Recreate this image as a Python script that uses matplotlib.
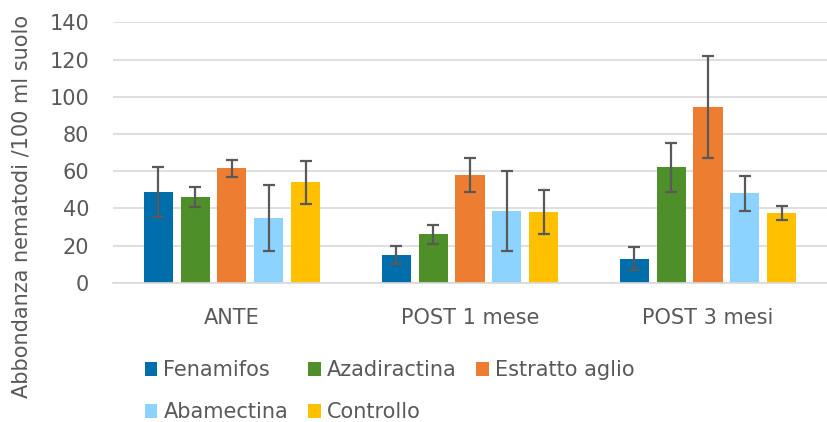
import numpy as np
import matplotlib.pyplot as plt

# dati
periodi = ["ANTE", "POST 1 mese", "POST 3 mesi"]
trattamenti = ["Fenamifos", "Azadiractina", "Estratto aglio", "Abamectina", "Controllo"]
colori = ["#006EAA", "#4E8F2A", "#ED7D31", "#8DD3FF", "#FFC000"]

fenamifos = [49, 15, 13]
azadiractina = [46, 26, 62]
estratto_aglio = [61.5, 58, 94.5]
abamectina = [35, 38.5, 48]
controllo = [54, 38, 37.5]

err_fenamifos = [13.5, 5, 6]
err_azadiractina = [5.4, 5, 13]
err_estratto_aglio = [4.5, 9, 27.4]
err_abamectina = [17.7, 21.6, 9.3]
err_controllo = [11.6, 12, 3.9]

valori = [fenamifos, azadiractina, estratto_aglio, abamectina, controllo]
errori = [err_fenamifos, err_azadiractina, err_estratto_aglio, err_abamectina, err_controllo]


def grafico():
    fig = plt.figure(figsize=(8.27, 4.22), dpi=100)
    ax = fig.add_axes([0.1366, 0.330, 0.8634, 0.617])

    x = np.arange(len(periodi))
    step = 0.155
    larghezza = 0.122
    bars = []
    for i, (v, e) in enumerate(zip(valori, errori)):
        b = ax.bar(x + (i - 2) * step, v, larghezza, color=colori[i],
                   label=trattamenti[i], zorder=2,
                   yerr=e, error_kw=dict(ecolor="#595959", elinewidth=1.6,
                                         capsize=4.5, capthick=1.6, zorder=3))
        bars.append(b)

    ax.set_xlim(-0.5, 2.5)
    ax.set_ylim(0, 140)
    ax.set_yticks(np.arange(0, 141, 20))
    ax.set_xticks(x)
    ax.set_xticklabels(periodi)
    ax.yaxis.grid(True, color="#d9d9d9", linewidth=1.2, zorder=0)
    ax.set_axisbelow(True)
    for s in ["top", "right", "left"]:
        ax.spines[s].set_visible(False)
    ax.spines["bottom"].set_color("#d9d9d9")
    ax.spines["bottom"].set_linewidth(1.2)
    ax.tick_params(axis="both", length=0, labelsize=15, labelcolor="#595959")
    ax.tick_params(axis="y", pad=17)
    ax.tick_params(axis="x", pad=18)

    fig.text(0.026, 0.51, "Abbondanza nematodi /100 ml suolo", rotation=90,
             ha="center", va="center", fontsize=15, color="#595959")

    ordine = [0, 3, 1, 4, 2]
    leg = fig.legend([bars[i] for i in ordine], [trattamenti[i] for i in ordine],
                     ncol=3, loc="upper left", bbox_to_anchor=(0.175, 0.146),
                     frameon=False, fontsize=15, handlelength=0.6,
                     handleheight=0.6, handletextpad=0.3, columnspacing=0.95,
                     labelspacing=1.05, borderpad=0, borderaxespad=0)
    for t in leg.get_texts():
        t.set_color("#595959")

    fig.savefig("out.png", dpi=100)


if __name__ == "__main__":
    grafico()
